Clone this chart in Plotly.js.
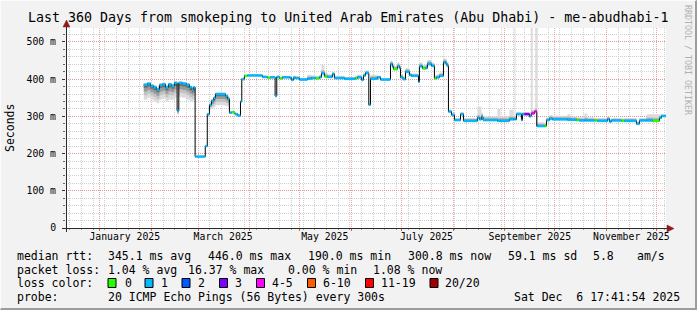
<!DOCTYPE html>
<html><head><meta charset="utf-8">
<script src="https://cdn.plot.ly/plotly-3.0.1.min.js"></script>
<style>
html,body{margin:0;padding:0;background:#f2f2f2;}
#wrap{position:relative;width:697px;height:310px;overflow:hidden;}
#chart{width:697px;height:310px;}
#frame{position:absolute;left:0;top:0;width:697px;height:310px;box-sizing:border-box;border-style:solid;border-width:1px 2px 2px 1px;border-color:#fbfbfb #9c9c9c #9c9c9c #fbfbfb;pointer-events:none;}
</style></head><body>
<div id="wrap"><div id="chart"></div><div id="frame"></div></div>
<script>
// ---------- data ----------
const times = [
 '2025-01-27 10:00','2025-01-29 14:00','2025-01-31 10:00','2025-02-02 05:00','2025-02-04 00:00','2025-02-05 19:00','2025-02-07 14:00','2025-02-09 10:00','2025-02-11 05:00','2025-02-13 00:00',
 '2025-02-14 19:00','2025-02-16 10:00','2025-02-17 10:00','2025-02-19 14:00','2025-02-22 00:00','2025-02-23 19:00','2025-02-25 07:00','2025-02-26 05:00','2025-02-27 05:00','2025-03-05 07:00',
 '2025-03-06 12:00','2025-03-07 19:00','2025-03-09 00:00','2025-03-10 10:00','2025-03-11 10:00','2025-03-17 10:00','2025-03-18 19:00','2025-03-19 19:00','2025-03-21 00:00','2025-03-23 02:00',
 '2025-03-24 19:00','2025-03-26 10:00','2025-03-27 05:00','2025-03-28 19:00','2025-03-30 14:00','2025-04-08 14:00','2025-04-11 14:00','2025-04-13 10:00','2025-04-16 05:00','2025-04-17 05:00',
 '2025-04-18 19:00','2025-04-20 14:00','2025-04-24 19:00','2025-04-26 00:00','2025-04-27 05:00','2025-04-28 10:00','2025-04-30 20:00','2025-05-05 14:00','2025-05-08 00:00','2025-05-10 10:00',
 '2025-05-12 19:00','2025-05-14 00:00','2025-05-15 19:00','2025-05-17 14:00','2025-05-20 14:00','2025-05-21 19:00','2025-05-27 19:00','2025-06-03 10:00','2025-06-04 14:00','2025-06-07 00:00',
 '2025-06-08 05:00','2025-06-09 10:00','2025-06-11 10:00','2025-06-12 10:00','2025-06-16 14:00','2025-06-18 10:00','2025-06-24 10:00','2025-06-25 14:00','2025-06-26 05:00','2025-06-28 14:00',
 '2025-06-29 19:00','2025-06-30 10:00','2025-07-01 22:00','2025-07-03 10:00','2025-07-05 19:00','2025-07-07 00:00','2025-07-11 05:00','2025-07-11 19:00','2025-07-13 14:00','2025-07-15 10:00',
 '2025-07-16 14:00','2025-07-19 00:00','2025-07-20 19:00','2025-07-22 00:00','2025-07-23 19:00','2025-07-26 05:00','2025-07-27 10:00','2025-07-28 07:00','2025-07-29 05:00','2025-07-31 01:00',
 '2025-08-01 19:00','2025-08-05 10:00','2025-08-07 05:00','2025-08-15 14:00','2025-08-16 19:00','2025-08-18 00:00','2025-08-18 22:00','2025-08-27 14:00','2025-08-29 10:00','2025-09-03 19:00',
 '2025-09-06 05:00','2025-09-06 19:00','2025-09-07 10:00','2025-09-08 00:00','2025-09-11 00:00','2025-09-11 14:00','2025-09-12 19:00','2025-09-15 19:00','2025-09-16 14:00','2025-09-17 00:00',
 '2025-09-17 19:00','2025-09-18 19:00','2025-09-19 05:00','2025-09-20 05:00','2025-09-20 19:00','2025-09-24 19:00','2025-09-26 00:00','2025-09-27 19:00','2025-09-29 14:00','2025-10-08 14:00',
 '2025-10-10 10:00','2025-10-14 00:00','2025-10-15 19:00','2025-10-18 19:00','2025-10-20 14:00','2025-10-24 19:00','2025-10-26 14:00','2025-11-01 14:00','2025-11-02 19:00','2025-11-04 00:00',
 '2025-11-10 00:00','2025-11-11 19:00','2025-11-19 00:00','2025-11-20 19:00','2025-11-25 00:00','2025-11-28 14:00','2025-12-02 19:00','2025-12-04 00:00','2025-12-06 17:00'
];
const medianMs = [
 385,388,382,378,372,384,386,378,386,382,
 390,315,390,388,385,378,372,378,192,220,
 306,331,342,350,360,355,347,310,311,306,
 302,340,400,409,410,406,404,405,355,406,
 402,405,404,398,404,403,399,401,403,402,
 405,416,407,406,414,403,401,402,405,398,
 410,417,331,401,405,399,441,434,427,435,
 430,405,400,420,411,409,393,435,429,430,
 441,436,402,405,409,446,443,436,313,304,
 290,306,288,296,292,299,290,288,288,292,
 292,292,292,306,290,306,306,300,302,308,
 308,313,313,274,274,274,290,294,292,291,
 291,290,289,289,289,289,288,293,286,289,
 288,288,280,289,289,288,296,301,301
];
const lossClass = [
 1,1,1,1,1,1,1,1,1,1,
 1,1,1,1,1,1,1,1,1,1,
 1,1,1,1,1,1,1,1,0,1,
 1,1,1,0,1,1,0,1,1,1,
 0,1,1,1,1,1,1,1,1,0,
 1,1,0,1,1,1,1,0,1,1,
 1,1,1,1,1,1,1,1,0,1,
 1,1,1,1,1,1,1,1,0,1,
 1,1,0,1,1,1,1,1,1,1,
 1,1,1,1,1,1,1,1,1,1,
 1,1,1,1,1,1,3,1,1,4,
 4,4,4,1,1,0,1,1,1,1,
 1,0,1,1,1,0,1,1,1,1,
 0,1,1,1,1,0,1,1,1
];
const smokeMin = [
 345,350,345,340,335,345,348,340,345,345,
 350,305,352,350,345,340,338,345,190,218,
 300,318,322,325,330,328,325,306,308,303,
 300,337,398,407,408,404,402,403,352,404,
 400,403,402,396,402,401,397,399,401,400,
 403,412,405,404,410,401,399,400,403,396,
 406,412,328,399,403,397,436,430,424,431,
 426,402,398,416,408,406,390,430,426,426,
 436,432,400,402,406,440,438,432,310,301,
 288,303,286,293,290,296,288,286,286,290,
 290,290,290,303,288,303,303,298,300,305,
 305,310,310,272,272,272,288,292,290,289,
 289,288,287,287,287,287,286,291,284,287,
 286,286,278,287,287,286,294,299,299
];
const smokeMax = [
 390,392,387,384,378,390,391,384,390,388,
 394,320,394,392,389,383,377,382,194,222,
 309,335,346,354,364,359,351,313,314,309,
 305,343,404,412,413,410,408,409,358,410,
 406,409,408,403,410,408,404,412,410,409,
 412,438,418,413,420,409,406,410,412,405,
 418,424,334,412,410,403,450,445,437,445,
 440,414,408,430,418,415,398,445,438,440,
 452,445,410,413,418,456,454,446,318,309,
 296,312,296,326,326,310,300,320,300,318,
 300,537,300,312,298,312,312,310,540,540,
 318,318,540,540,284,282,298,304,302,306,
 300,298,298,308,298,296,296,300,294,296,
 295,296,286,296,306,306,305,306,306
];
const lossLabels = ['0','1','2','3','4-5','6-10','11-19','20/20'];
const lossColors = ['#26ff00','#00b8ff','#0059ff','#7e00ff','#ff00ff','#ff5a00','#ff0000','#a10000'];
const monthTickVals = ['2025-01-16','2025-03-16','2025-05-16','2025-07-16','2025-09-16','2025-11-16'];
const monthTickText = ['January 2025','March 2025','May 2025','July 2025','September 2025','November 2025'];
const yTickVals = [0,100,200,300,400,500];
const yTickText = ['0','100 m','200 m','300 m','400 m','500 m'];
const xRange = ['2024-12-11 17:41:54','2025-12-06 17:41:54'];
const yMax = 537.6;
const chartTitle = 'Last 360 Days from smokeping to United Arab Emirates (Abu Dhabi) - me-abudhabi-1';
const yTitle = 'Seconds';
const rttLabel = 'median rtt:';
const rttStats = ['345.1 ms avg','446.0 ms max','190.0 ms min','300.8 ms now','59.1 ms sd','5.8','am/s'];
const lossLabel = 'packet loss:';
const lossStats = ['1.04 % avg','16.37 % max','0.00 % min','1.08 % now'];
const lossColorLabel = 'loss color:';
const probeLabel = 'probe:';
const probeText = '20 ICMP Echo Pings (56 Bytes) every 300s';
const stampText = 'Sat Dec \u00a06 17:41:54 2025';
const sideText = 'RRDTOOL / TOBI OETIKER';

// ---------- styling / positions ----------
const MONO = 'DejaVu Sans Mono';
const L = 66, T = 28, W = 600, H = 200;
const px2x = p => (p - L) / W;
const px2y = p => (T + H - p) / H;
const rttX = [107,207,307,407,507,592,636];
const lossX = [107,187,287,372];
const swX = [108,145,182,219.5,256.5,307.5,365.5,430];
const swLabX = [123.5,160,197,234,271,322,380,444];
const rowY = [255.5,269.5,283,297];

// smoke layers (fraction of spread, colour)
const layers = [[1.0,'#dcdcdc'],[0.7,'#c2c2c2'],[0.45,'#9a9a9a'],[0.2,'#6c6c6c']];
const traces = [];
layers.forEach(([f,c],k) => {
  const lo = medianMs.map((m,i) => m - (m - smokeMin[i]) * f);
  const hi = medianMs.map((m,i) => m + (k === 0 ? (smokeMax[i] - m) : Math.min(smokeMax[i] - m, 12)) * f);
  traces.push({x:times, y:lo, type:'scatter', mode:'lines', line:{width:0, shape:'hv'}, hoverinfo:'skip', showlegend:false});
  traces.push({x:times, y:hi, type:'scatter', mode:'lines', line:{width:0, shape:'hv'}, fill:'tonexty', fillcolor:c, hoverinfo:'skip', showlegend:false});
});
// black median step line
traces.push({x:times, y:medianMs, type:'scatter', mode:'lines', line:{color:'#000', width:1, shape:'hv'}, hoverinfo:'skip', showlegend:false});
// coloured loss segments (on overlaying axis so they are drawn on top)
lossColors.forEach((c,k) => {
  const xs = [], ys = [];
  for (let i = 0; i < times.length - 1; i++) {
    if (lossClass[i] === k) { xs.push(times[i], times[i+1], null); ys.push(medianMs[i], medianMs[i], null); }
  }
  traces.push({x:xs.length?xs:[times[0]], y:ys.length?ys:[null], xaxis:'x2', type:'scatter', mode:'lines', line:{color:c, width:2.5}, hoverinfo:'skip', showlegend:false});
});

const ann = [];
const txt = (s, px, py, extra) => Object.assign({text:s, xref:'paper', yref:'paper', x:px2x(px), y:px2y(py), xanchor:'left', yanchor:'middle', showarrow:false, borderpad:0, font:{family:MONO, size:11.5, color:'#000'}}, extra||{});
ann.push(txt(chartTitle, 347.5, 18, {xanchor:'center', font:{family:MONO, size:13.3, color:'#000'}}));
ann.push(txt(yTitle, 10, 128, {xanchor:'center', textangle:-90}));
ann.push(txt(sideText, 688, 60, {xanchor:'center', textangle:90, font:{family:MONO, size:8.3, color:'#b0b0b0'}}));
ann.push(txt(rttLabel, 16, rowY[0]));
rttStats.forEach((s,i) => ann.push(txt(s, rttX[i], rowY[0])));
ann.push(txt(lossLabel, 16, rowY[1]));
lossStats.forEach((s,i) => ann.push(txt(s, lossX[i], rowY[1])));
ann.push(txt(lossColorLabel, 16, rowY[2]));
lossLabels.forEach((s,i) => ann.push(txt(s, swLabX[i], rowY[2])));
ann.push(txt(probeLabel, 16, rowY[3]));
ann.push(txt(probeText, 107, rowY[3]));
ann.push(txt(stampText, 513, rowY[3]));

const shapes = [];
lossColors.forEach((c,i) => shapes.push({type:'rect', xref:'paper', yref:'paper', x0:px2x(swX[i]), x1:px2x(swX[i]+8), y0:px2y(rowY[2]+4.5), y1:px2y(rowY[2]-4.5), fillcolor:c, line:{color:'#000', width:1}}));
// axes
shapes.push({type:'line', xref:'paper', yref:'paper', x0:px2x(62), x1:px2x(668), y0:px2y(228.5), y1:px2y(228.5), line:{color:'#2a2a2a', width:1}});
shapes.push({type:'line', xref:'paper', yref:'paper', x0:px2x(66.5), x1:px2x(66.5), y0:px2y(232), y1:px2y(26), line:{color:'#2a2a2a', width:1}});
// arrows
const ax = x => px2x(x), ay = y => px2y(y);
shapes.push({type:'path', xref:'paper', yref:'paper', path:`M ${ax(667)} ${ay(225)} L ${ax(674)} ${ay(228.5)} L ${ax(667)} ${ay(232)} Z`, fillcolor:'#8c1c1c', line:{color:'#8c1c1c', width:0.5}});
shapes.push({type:'path', xref:'paper', yref:'paper', path:`M ${ax(63)} ${ay(27)} L ${ax(66.5)} ${ay(20)} L ${ax(70)} ${ay(27)} Z`, fillcolor:'#8c1c1c', line:{color:'#8c1c1c', width:0.5}});

const redGrid = 'rgba(232,120,120,0.65)';
const grayGrid = '#cfcfcf';
const layout = {
  width:697, height:310,
  margin:{l:L, r:697-L-W, t:T, b:310-T-H, pad:0},
  paper_bgcolor:'#f2f2f2', plot_bgcolor:'#ffffff',
  showlegend:false,
  xaxis:{type:'date', range:xRange, showticklabels:false, showline:false, zeroline:false,
    dtick:'M1', tick0:'2025-01-01', showgrid:true, gridcolor:redGrid, griddash:'1px,1px', gridwidth:1,
    ticks:'outside', ticklen:2, tickcolor:'#d06060',
    minor:{dtick:604800000, tick0:'2025-01-04', showgrid:true, gridcolor:grayGrid, griddash:'1px,1px', ticks:'outside', ticklen:1, tickcolor:'#999'}},
  xaxis2:{type:'date', range:xRange, overlaying:'x', anchor:'y', side:'bottom', showgrid:false, zeroline:false, showline:false,
    tickmode:'array', tickvals:monthTickVals, ticktext:monthTickText, ticks:'', ticklabelstandoff:1, tickfont:{family:MONO, size:9.8, color:'#000'}},
  yaxis:{range:[0,yMax], tickmode:'array', tickvals:yTickVals, ticktext:yTickText, showgrid:true, gridcolor:redGrid, griddash:'1px,1px',
    zeroline:false, showline:false, ticks:'outside', ticklen:3, tickcolor:'#333', ticklabelstandoff:4,
    tickfont:{family:MONO, size:9.8, color:'#000'},
    minor:{dtick:20, tick0:0, showgrid:true, gridcolor:grayGrid, griddash:'1px,1px', ticks:'outside', ticklen:2, tickcolor:'#666'}},
  annotations:ann, shapes:shapes
};
Plotly.newPlot('chart', traces, layout, {staticPlot:true, displayModeBar:false});
</script>
</body></html>
